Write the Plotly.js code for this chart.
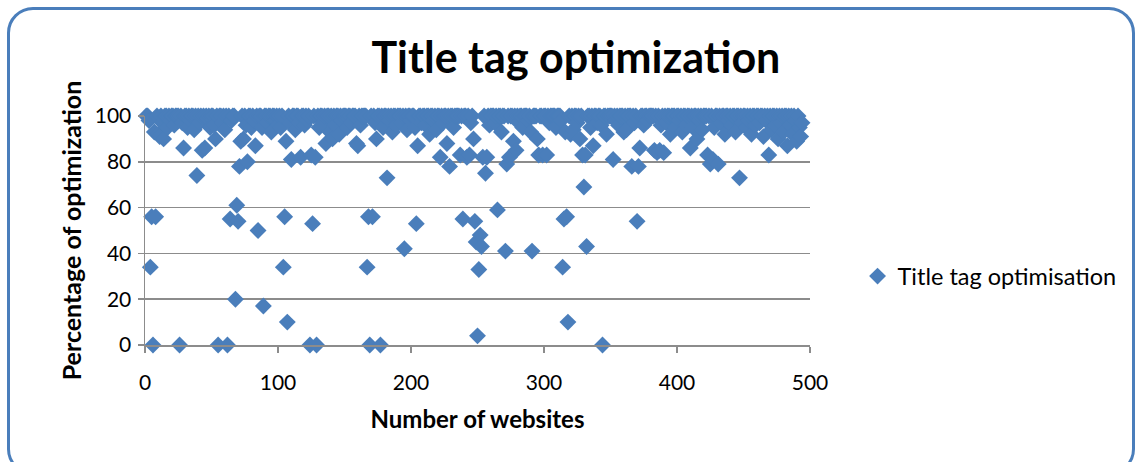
<!DOCTYPE html>
<html>
<head>
<meta charset="utf-8">
<script src="https://cdn.plot.ly/plotly-3.0.1.min.js"></script>
<style>
  html, body { margin: 0; padding: 0; background: #ffffff; overflow: hidden; }
  #chart { width: 1136px; height: 462px; position: absolute; left: 0; top: 0; }
  #frame { position: absolute; left: 7px; top: 7px; width: 1122px; height: 462px;
           border: 3px solid #4A7EBB; border-radius: 26px; pointer-events: none; }
</style>
</head>
<body>
<div id="chart"></div>
<div id="frame"></div>
<script>
// Title tag optimisation score (%) for each website, website 1..494
const scores = [
  100,100,98,34,56,0,93,56,100,92,
  91,100,97,90,100,100,95,100,98,100,
  100,96,100,100,100,0,100,97,86,100,
  100,95,100,98,100,100,94,100,74,100,
  97,100,85,100,86,100,99,100,95,100,
  100,96,90,100,0,100,100,97,100,94,
  100,0,100,55,98,100,100,20,61,54,
  78,89,100,90,100,96,80,100,100,95,
  100,98,87,100,50,100,100,95,17,100,
  100,97,100,100,93,100,100,98,100,96,
  100,95,100,34,56,89,10,100,97,81,
  100,100,94,100,100,97,82,100,100,96,
  100,98,100,0,83,53,100,82,0,100,
  95,100,100,97,100,88,100,100,93,100,
  90,100,96,100,100,92,100,98,100,100,
  100,95,100,100,97,100,100,100,88,87,
  100,96,100,100,100,100,34,56,0,100,
  56,100,97,90,100,100,0,100,95,100,
  100,73,100,98,100,93,100,100,96,100,
  100,100,97,100,42,100,94,100,100,98,
  100,100,95,53,87,100,100,97,100,100,
  96,100,100,92,100,100,98,100,94,100,
  100,82,100,97,100,100,88,100,78,100,
  100,95,100,100,100,100,83,100,55,100,
  100,82,100,83,97,100,90,54,45,4,
  33,48,43,82,100,75,82,100,96,100,
  100,100,97,100,59,100,100,93,100,100,
  41,79,100,82,100,100,89,100,85,100,
  97,100,100,95,100,100,100,98,100,93,
  41,100,100,100,90,83,100,100,83,100,
  100,83,100,97,100,100,100,100,95,100,
  100,100,98,34,55,93,56,10,100,92,
  100,94,100,100,97,100,90,100,83,69,
  83,43,100,100,95,100,87,100,100,97,
  100,100,96,0,100,100,92,100,100,100,
  100,81,100,98,100,96,100,100,100,93,
  100,94,100,100,100,78,100,97,100,54,
  78,86,100,100,96,100,100,98,100,100,
  100,100,85,100,84,100,85,96,100,84,
  100,97,100,100,92,100,100,100,95,100,
  100,98,100,93,100,100,96,100,100,86,
  100,95,100,100,90,100,98,100,94,100,
  100,100,83,100,79,100,81,95,100,100,
  79,100,97,100,100,92,100,100,98,100,
  96,100,100,93,100,100,73,100,97,100,
  100,95,100,98,100,92,100,100,96,100,
  100,97,100,100,91,100,98,100,83,100,
  94,100,100,96,100,90,100,97,100,93,
  100,100,87,100,96,100,92,100,98,89,
  100,95,91,97
];
const websites = scores.map((_, i) => i + 1);
const xTicks = [0, 100, 200, 300, 400, 500];
const yTicks = [0, 20, 40, 60, 80, 100];

const FONT = 'Lato, "Open Sans", sans-serif';
const BLUE = '#4A7EBB';
const GRID = '#8C8C8C';

const trace = {
  type: 'scatter',
  mode: 'markers',
  x: websites,
  y: scores,
  name: 'Title tag optimisation',
  marker: { symbol: 'diamond', size: 13, color: BLUE, line: { width: 0 } },
  cliponaxis: false
};

const layout = {
  width: 1136, height: 462,
  margin: { l: 145, r: 326, t: 116, b: 117, pad: 0 },
  paper_bgcolor: 'rgba(0,0,0,0)',
  plot_bgcolor: 'rgba(0,0,0,0)',
  font: { family: FONT, color: '#000000' },
  title: {
    text: '<b>Title tag optimization</b>',
    font: { family: FONT, size: 43, color: '#000000' },
    x: 0.648, xanchor: 'center', xref: 'paper',
    y: 0.874, yanchor: 'middle', yref: 'container'
  },
  showlegend: true,
  legend: {
    x: 1.0715, xanchor: 'left', y: 0.30, yanchor: 'middle',
    font: { family: FONT, size: 23.5, color: '#000000' },
    bgcolor: 'rgba(0,0,0,0)', itemwidth: 30
  },
  xaxis: {
    range: [0, 500], tickvals: xTicks, ticktext: xTicks.map(String),
    showgrid: false, zeroline: false,
    showline: true, linecolor: GRID, linewidth: 1.5,
    ticks: 'outside', ticklen: 6, tickwidth: 1.5, tickcolor: GRID,
    tickfont: { family: FONT, size: 21, color: '#000000' },
    ticklabelstandoff: 12,
    title: { text: '<b>Number of websites</b>', font: { family: FONT, size: 24, color: '#000000' }, standoff: 18 },
    fixedrange: true
  },
  yaxis: {
    range: [0, 100], tickvals: yTicks, ticktext: yTicks.map(String),
    showgrid: true, gridcolor: GRID, gridwidth: 1.5, zeroline: false,
    showline: true, linecolor: GRID, linewidth: 1.5,
    ticks: 'outside', ticklen: 6, tickwidth: 1.5, tickcolor: GRID,
    tickfont: { family: FONT, size: 21, color: '#000000' },
    ticklabelstandoff: 2,
    title: { text: '<b>Percentage of optimization</b>', font: { family: FONT, size: 25, color: '#000000' }, standoff: 6 },
    fixedrange: true
  }
};

Plotly.newPlot('chart', [trace], layout, { displayModeBar: false, staticPlot: true });
</script>
</body>
</html>
